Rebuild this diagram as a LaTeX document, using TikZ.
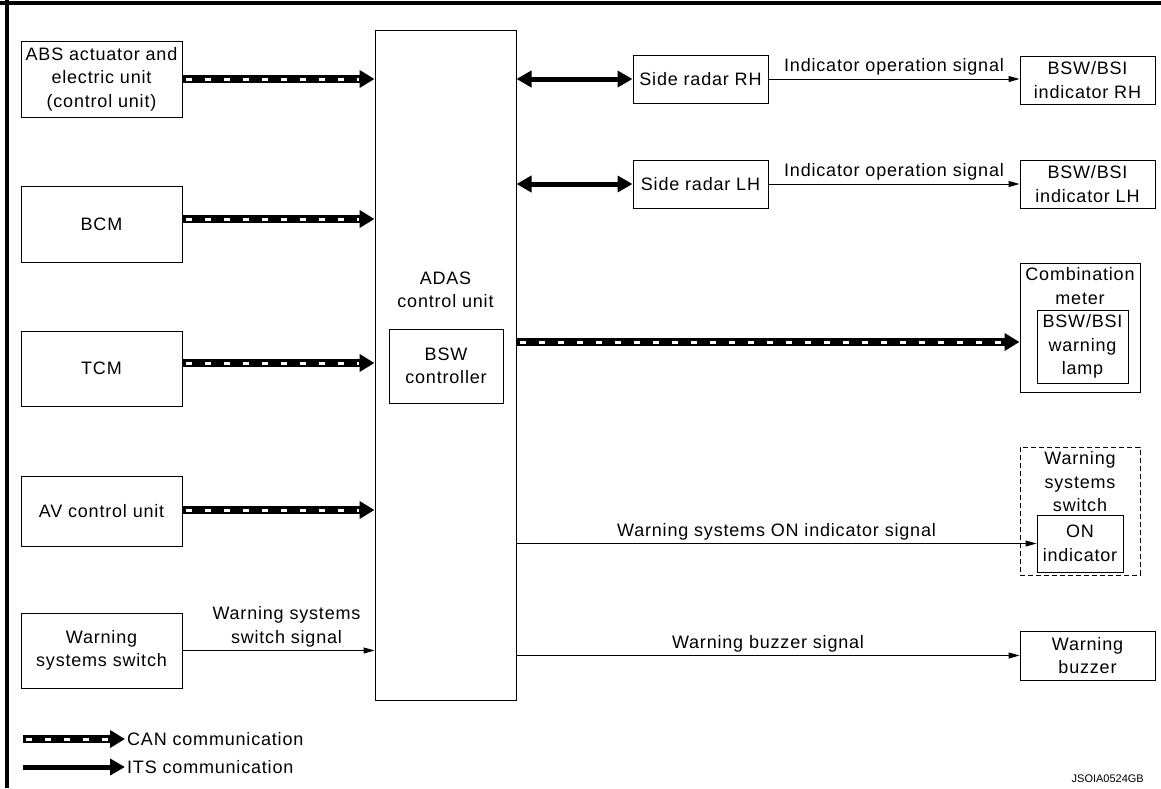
\documentclass[tikz,border=0pt]{standalone}
\usepackage{fontspec}
\setmainfont{Liberation Sans}[LetterSpace=4.5]
\newfontfamily\codefont{Liberation Sans}
\usetikzlibrary{arrows.meta}
\begin{document}
\begin{tikzpicture}[x=1pt,y=-1pt,
  font=\fontsize{18}{23.5}\selectfont,
  box/.style={draw, line width=1pt, inner sep=0pt, align=center},
  dbox/.style={draw, line width=1pt, inner sep=0pt, dash pattern=on 5pt off 3pt},
  txt/.style={inner sep=0pt, align=center},
  can/.style={line width=8pt, -{Triangle[length=15pt,width=17pt]},
    postaction={draw=white, line width=3pt, dash pattern=on 6pt off 13pt, dash phase=-3pt, shorten >=16pt, -}},
  its/.style={line width=5pt, {Triangle[length=15pt,width=16pt]}-{Triangle[length=15pt,width=16pt]}},
  itsone/.style={line width=5pt, -{Triangle[length=15pt,width=16pt]}},
  sig/.style={line width=1pt, -{Triangle[length=11pt,width=6pt]}},
  lbl/.style={above=3pt, inner sep=0pt, align=center}
]
\useasboundingbox (0,0) rectangle (1161,788);
% frame
\draw[line width=4pt] (0,3) -- (1161,3);
\draw[line width=4pt] (6.5,0) -- (6.5,788);

% left column
\node[box, minimum width=161pt, minimum height=76pt] (abs) at (101.5,79) {ABS actuator and\\electric unit\\(control unit)};
\node[box, minimum width=161pt, minimum height=76pt] (bcm) at (101.5,224) {BCM};
\node[box, minimum width=161pt, minimum height=75pt] (tcm) at (101.5,368.5) {TCM};
\node[box, minimum width=161pt, minimum height=70pt] (av) at (101.5,511) {AV control unit};
\node[box, minimum width=161pt, minimum height=75pt] (wss) at (101.5,650.5) {Warning\\systems switch};

% ADAS
\node[box, minimum width=141pt, minimum height=670pt] (adas) at (445.5,365) {};
\node[txt] (adastxt) at (445.5,290) {ADAS\\control unit};
\node[box, minimum width=114pt, minimum height=74pt] (bswc) at (446,366) {BSW\\controller};

% right side
\node[box, minimum width=135pt, minimum height=48pt] (srrh) at (700.5,79) {Side radar RH};
\node[box, minimum width=135pt, minimum height=48pt] (srlh) at (700.5,184) {Side radar LH};
\node[box, minimum width=135pt, minimum height=48pt] (indrh) at (1087.5,80) {BSW/BSI\\indicator RH};
\node[box, minimum width=135pt, minimum height=48pt] (indlh) at (1087.5,184) {BSW/BSI\\indicator LH};

\node[box, minimum width=120pt, minimum height=129pt] (comb) at (1080,327.5) {};
\node[txt] (combtxt) at (1080,286) {Combination\\meter};
\node[box, minimum width=91pt, minimum height=73pt] (lamp) at (1082.5,346.5) {BSW/BSI\\warning\\lamp};

\node[dbox, minimum width=120pt, minimum height=128pt] (wssw) at (1080,511) {};
\node[txt] (wsswtxt) at (1080,482) {Warning\\systems\\switch};
\node[box, minimum width=86pt, minimum height=57pt] (onind) at (1080,543.5) {ON\\indicator};

\node[box, minimum width=135pt, minimum height=49pt] (buzzer) at (1087.5,655.5) {Warning\\buzzer};

% CAN inputs
\draw[can] (abs.east) -- (abs.east -| adas.west);
\draw[can] ([yshift=5pt]bcm.east) -- ([yshift=5pt]bcm.east -| adas.west);
\draw[can] ([yshift=5.5pt]tcm.east) -- ([yshift=5.5pt]tcm.east -| adas.west);
\draw[can] ([yshift=1pt]av.east) -- ([yshift=1pt]av.east -| adas.west);
\draw[sig] (wss.east) -- (wss.east -| adas.west) node[lbl, midway, xshift=8pt] {Warning systems\\switch signal};

% ITS
\draw[its] (adas.east |- srrh.west) -- (srrh.west);
\draw[its] (adas.east |- srlh.west) -- (srlh.west);
\draw[sig] (srrh.east) -- (srrh.east -| indrh.west) node[lbl, midway] {Indicator operation signal};
\draw[sig] (srlh.east) -- (srlh.east -| indlh.west) node[lbl, midway] {Indicator operation signal};

% CAN to meter
\coordinate (canm) at ([yshift=-14.5pt]comb.west);
\draw[can] (adas.east |- canm) -- (canm);

% signals
\draw[sig] (adas.east |- onind.west) -- (onind.west) node[lbl, midway] {Warning systems ON indicator signal};
\draw[sig] (adas.east |- buzzer.west) -- (buzzer.west) node[lbl, midway] {Warning buzzer signal};

% legend
\coordinate (lca) at (23,739);
\coordinate (lcb) at (125,739);
\coordinate (lia) at (23,767);
\coordinate (lib) at (125,767);
\draw[can] (lca) -- (lcb);
\draw[itsone] (lia) -- (lib);
\node[txt, anchor=west] (lcan) at (127,739) {CAN communication};
\node[txt, anchor=west] (lits) at (127,767) {ITS communication};

\node[inner sep=0pt, anchor=east, font=\codefont\fontsize{11}{13}\selectfont] (code) at (1144,779) {JSOIA0524GB};
\end{tikzpicture}
\end{document}
